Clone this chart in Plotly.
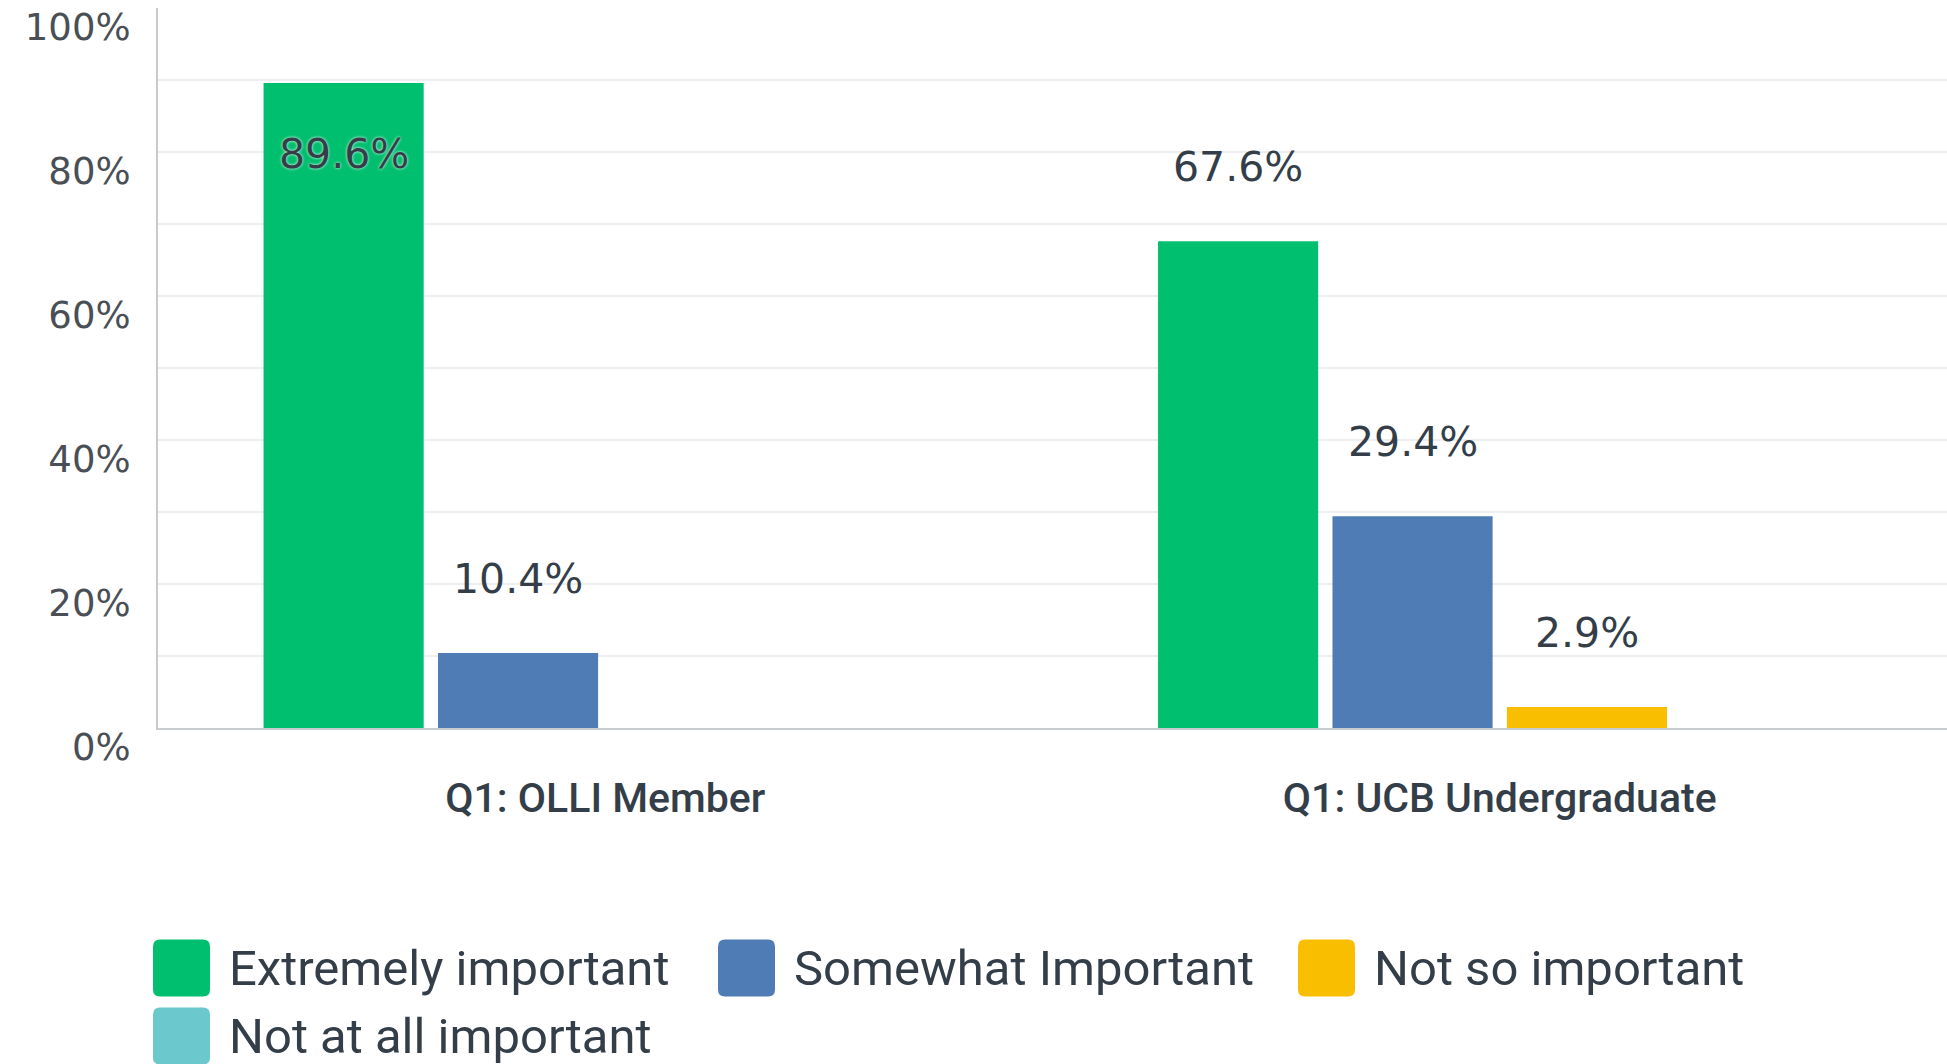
import plotly.graph_objects as go

# survey answers, percent of respondents
categories = ["Q1: OLLI Member", "Q1: UCB Undergraduate"]
series_names = [
    "Extremely important",
    "Somewhat Important",
    "Not so important",
    "Not at all important",
]
extremely_important = [89.6, 67.6]
somewhat_important = [10.4, 29.4]
not_so_important = [0.0, 2.9]
not_at_all_important = [0.0, 0.0]
series_values = [
    extremely_important,
    somewhat_important,
    not_so_important,
    not_at_all_important,
]
y_ticks = [0, 20, 40, 60, 80, 100]
y_grid = [10, 20, 30, 40, 50, 60, 70, 80, 90]

colors = ["#00BF6F", "#507CB6", "#F9BE00", "#6BC8CD"]
TEXT = "#333E48"
TICK = "#4A4F55"
GRID = "#EDEEEF"
AXIS = "#C9CCCE"

W, H = 1947, 1064
M_L, M_R, M_T, M_B = 158, 0, 8, 336
BARGAP = 0.22
GROUPGAP = 0.082


def px_x(x):
    return (x - M_L) / (W - M_L - M_R)


def px_y(y):
    return (H - M_B - y) / (H - M_T - M_B)


fig = go.Figure()
for name, vals, col in zip(series_names, series_values, colors):
    fig.add_trace(
        go.Bar(
            x=categories,
            y=vals,
            name=name,
            marker=dict(color=col, line=dict(width=0)),
            showlegend=False,
        )
    )

# value labels above each bar (inside when the bar is near the top)
n = len(series_values)
slot = (1 - BARGAP) / n
for i, vals in enumerate(series_values):
    off = (i - (n - 1) / 2) * slot
    for j, v in enumerate(vals):
        if v <= 0:
            continue
        inside = v > 85
        fig.add_annotation(
            x=j + off,
            y=v,
            xref="x",
            yref="y",
            text=f"{v:.1f}%",
            showarrow=False,
            yanchor="middle",
            yshift=-71 if inside else 74,
            font=dict(
                family="DejaVu Sans",
                size=41,
                color=TEXT,
                shadow="0px 0px 3px white" if inside else "none",
            ),
        )

# legend drawn by hand so the swatches match the big rounded squares
legend_x = [153, 718, 1298, 153]
legend_y = [968, 968, 968, 1036]
SW = 57
R = 7
for k, (name, col) in enumerate(zip(series_names, colors)):
    x0, x1 = legend_x[k], legend_x[k] + SW
    y0, y1 = legend_y[k] - SW / 2, legend_y[k] + SW / 2
    path = (
        f"M {px_x(x0 + R)},{px_y(y0)} L {px_x(x1 - R)},{px_y(y0)} "
        f"Q {px_x(x1)},{px_y(y0)} {px_x(x1)},{px_y(y0 + R)} "
        f"L {px_x(x1)},{px_y(y1 - R)} Q {px_x(x1)},{px_y(y1)} {px_x(x1 - R)},{px_y(y1)} "
        f"L {px_x(x0 + R)},{px_y(y1)} Q {px_x(x0)},{px_y(y1)} {px_x(x0)},{px_y(y1 - R)} "
        f"L {px_x(x0)},{px_y(y0 + R)} Q {px_x(x0)},{px_y(y0)} {px_x(x0 + R)},{px_y(y0)} Z"
    )
    fig.add_shape(
        type="path",
        path=path,
        xref="paper",
        yref="paper",
        fillcolor=col,
        line=dict(width=0),
    )
    fig.add_annotation(
        x=px_x(x1 + 17),
        y=px_y(legend_y[k]),
        xref="paper",
        yref="paper",
        text=name,
        showarrow=False,
        xanchor="left",
        yanchor="middle",
        font=dict(family="Roboto", size=49, color=TEXT),
    )

fig.update_layout(
    width=W,
    height=H,
    paper_bgcolor="#ffffff",
    plot_bgcolor="#ffffff",
    margin=dict(l=M_L, r=M_R, t=M_T, b=M_B, pad=0, autoexpand=False),
    barmode="group",
    bargap=BARGAP,
    bargroupgap=GROUPGAP,
    showlegend=False,
)
fig.update_xaxes(
    automargin=False,
    showgrid=False,
    showline=True,
    linecolor=AXIS,
    linewidth=2,
    ticks="",
    tickfont=dict(family="Roboto", size=41, color=TEXT, weight=500),
    ticklabelstandoff=33,
)
fig.update_yaxes(
    automargin=False,
    range=[0, 100],
    tickvals=y_ticks,
    ticktext=[f"{t}%" for t in y_ticks],
    showgrid=False,
    zeroline=False,
    showline=True,
    linecolor=AXIS,
    linewidth=2,
    ticks="",
    tickfont=dict(family="DejaVu Sans", size=37, color=TICK),
    ticklabelshift=19,
    ticklabelstandoff=18,
    minor=dict(tickvals=y_grid, showgrid=True, gridcolor=GRID, gridwidth=2),
)

# drop the default page margin so the figure sits at the window's corner
fig.write_html(
    "out.html",
    config={"displayModeBar": False},
    post_script="document.body.style.margin='0';document.body.style.overflow='hidden';",
)
